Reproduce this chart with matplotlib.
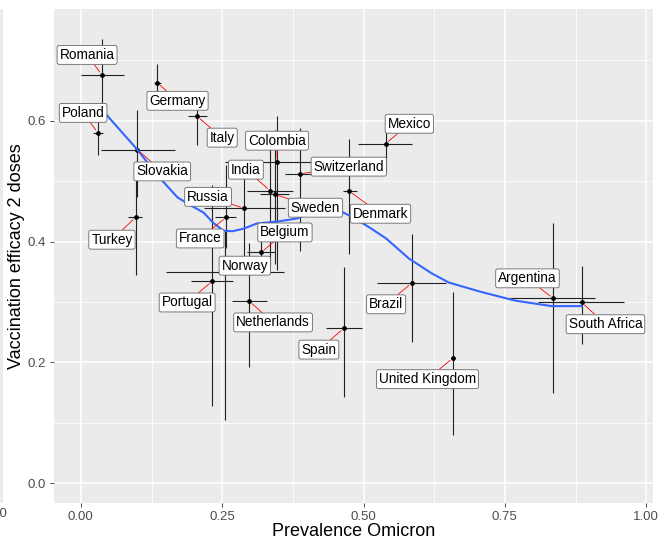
import matplotlib
matplotlib.use('Agg')
import matplotlib.pyplot as plt
import numpy as np

plt.rcParams['font.family'] = ['Liberation Sans', 'DejaVu Sans']

# omicron prevalence vs. two-dose vaccine efficacy, with intervals
countries = ['Romania', 'Poland', 'Germany', 'Italy', 'Slovakia', 'Turkey',
             'France', 'Russia', 'India', 'Colombia', 'Sweden', 'Switzerland',
             'Mexico', 'Denmark', 'Belgium', 'Norway', 'Portugal', 'Netherlands',
             'Brazil', 'Spain', 'United Kingdom', 'Argentina', 'South Africa']
prev = [0.037, 0.030, 0.135, 0.206, 0.100, 0.097, 0.257, 0.289, 0.335, 0.347,
        0.343, 0.387, 0.539, 0.475, 0.319, 0.255, 0.232, 0.298, 0.585, 0.465,
        0.658, 0.835, 0.886]
prev_lo = [0.000, 0.021, 0.130, 0.190, 0.035, 0.083, 0.238, 0.217, 0.294, 0.255,
           0.317, 0.361, 0.491, 0.463, 0.294, 0.150, 0.195, 0.268, 0.523, 0.433,
           0.655, 0.759, 0.808]
prev_hi = [0.076, 0.040, 0.141, 0.224, 0.167, 0.109, 0.275, 0.361, 0.375, 0.408,
           0.368, 0.412, 0.586, 0.488, 0.343, 0.359, 0.269, 0.329, 0.646, 0.498,
           0.662, 0.910, 0.961]
ve = [0.676, 0.580, 0.663, 0.607, 0.552, 0.440, 0.440, 0.455, 0.484, 0.532,
      0.478, 0.512, 0.562, 0.483, 0.382, 0.349, 0.334, 0.301, 0.331, 0.256,
      0.207, 0.306, 0.299]
ve_lo = [0.625, 0.544, 0.646, 0.559, 0.474, 0.344, 0.390, 0.365, 0.360, 0.352,
         0.362, 0.385, 0.517, 0.380, 0.355, 0.104, 0.128, 0.193, 0.233, 0.143,
         0.079, 0.149, 0.230]
ve_hi = [0.736, 0.617, 0.694, 0.648, 0.618, 0.517, 0.527, 0.512, 0.555, 0.607,
         0.584, 0.588, 0.600, 0.569, 0.408, 0.418, 0.493, 0.397, 0.413, 0.357,
         0.317, 0.431, 0.360]

# where each repelled label box sits
label_x = [0.011, 0.004, 0.171, 0.250, 0.144, 0.055, 0.211, 0.225, 0.292, 0.347,
           0.415, 0.474, 0.581, 0.530, 0.361, 0.290, 0.188, 0.340, 0.540, 0.421,
           0.613, 0.790, 0.928]
label_y = [0.709, 0.613, 0.633, 0.572, 0.516, 0.403, 0.405, 0.474, 0.519, 0.567,
           0.456, 0.524, 0.595, 0.446, 0.415, 0.360, 0.299, 0.266, 0.296, 0.221,
           0.172, 0.339, 0.263]

# loess smooth
smooth_x = [0.030, 0.100, 0.136, 0.171, 0.194, 0.217, 0.234, 0.252, 0.268, 0.287,
            0.312, 0.347, 0.382, 0.423, 0.440, 0.458, 0.481, 0.511, 0.540, 0.580,
            0.621, 0.651, 0.710, 0.769, 0.833, 0.886]
smooth_y = [0.626, 0.552, 0.509, 0.473, 0.460, 0.448, 0.431, 0.418, 0.417, 0.421,
            0.430, 0.433, 0.438, 0.453, 0.455, 0.451, 0.440, 0.423, 0.405, 0.372,
            0.347, 0.332, 0.316, 0.302, 0.293, 0.293]

fig = plt.figure(figsize=(6.7, 5.39), dpi=100)

# sliver of the neighbouring panel on the far left
side = fig.add_axes([0.0, 0.0668, 0.005, 0.9165])
side.set_facecolor('#EBEBEB')
side.set_xticks([])
side.set_yticks([])
for s in side.spines.values():
    s.set_visible(False)
fig.text(0.012, 0.046, '1.00', ha='right', va='center', fontsize=9.5, color='#4D4D4D')

ax = fig.add_axes([0.0806, 0.0668, 0.894, 0.9165])
ax.set_facecolor('#EBEBEB')
for s in ax.spines.values():
    s.set_visible(False)
ax.set_xlim(-0.0475, 1.012)
ax.set_ylim(-0.033, 0.785)
ax.set_xticks([0, 0.25, 0.5, 0.75, 1.0])
ax.set_xticklabels(['0.00', '0.25', '0.50', '0.75', '1.00'])
ax.set_xticks([0.125, 0.375, 0.625, 0.875], minor=True)
ax.set_yticks([0, 0.2, 0.4, 0.6])
ax.set_yticklabels(['0.0', '0.2', '0.4', '0.6'])
ax.set_yticks([0.1, 0.3, 0.5, 0.7], minor=True)
ax.grid(which='major', color='white', lw=1.1)
ax.grid(which='minor', color='white', lw=0.55)
ax.set_axisbelow(True)
ax.tick_params(which='major', color='#333333', labelcolor='#4D4D4D',
               length=3, width=0.6, labelsize=9.5, pad=2.5)
ax.tick_params(which='minor', length=0)

ax.vlines(prev, ve_lo, ve_hi, color='#222222', lw=0.8, zorder=2)
ax.hlines(ve, prev_lo, prev_hi, color='#222222', lw=0.8, zorder=2)
ax.scatter(prev, ve, s=6, color='black', zorder=3)
ax.plot(smooth_x, smooth_y, color='#3366FF', lw=1.5, zorder=4)

for name, x, y, lx, ly in zip(countries, prev, ve, label_x, label_y):
    ax.annotate(name, xy=(x, y), xytext=(lx, ly), ha='center', va='center',
                fontsize=9.8, color='black', zorder=5,
                bbox=dict(boxstyle='round,pad=0.18,rounding_size=0.15',
                          fc='white', ec='#666666', lw=0.6),
                arrowprops=dict(arrowstyle='-', color='red', lw=0.6,
                                shrinkA=0, shrinkB=2.5))

ax.set_xlabel('Prevalence Omicron', fontsize=13, labelpad=0)
ax.set_ylabel('Vaccination efficacy 2 doses', fontsize=13, labelpad=2)

plt.savefig('out.png', dpi=100)
